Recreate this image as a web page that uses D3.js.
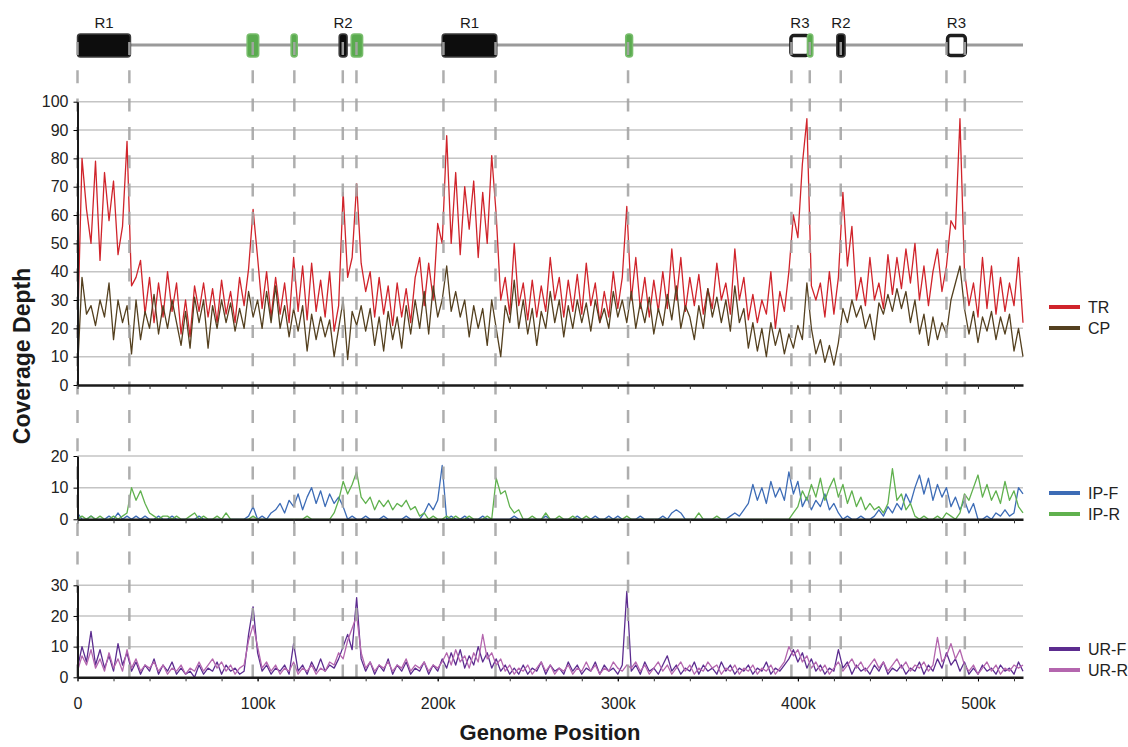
<!DOCTYPE html>
<html>
<head>
<meta charset="utf-8">
<script src="https://cdnjs.cloudflare.com/ajax/libs/d3/7.8.5/d3.min.js"></script>
<style>
  body { margin: 0; background: #fff; }
  svg { font-family: "Liberation Sans", Arial, sans-serif; }
</style>
</head>
<body>
<script>
// coverage along the genome, one value every 2.5 kb (0 .. 525 kb)
var step = 2500;

var tr = [18, 80, 62, 50, 79, 44, 75, 58, 72, 46,
  56, 86, 35, 38, 44, 25, 38, 22, 36, 24,
  40, 26, 36, 18, 30, 17, 35, 26, 36, 24,
  34, 22, 37, 25, 33, 22, 38, 28, 41, 62,
  45, 27, 40, 24, 38, 25, 36, 22, 45, 26,
  42, 23, 43, 26, 37, 24, 40, 19, 28, 68,
  38, 45, 71, 43, 33, 40, 24, 38, 25, 35,
  21, 36, 24, 34, 22, 38, 45, 28, 43, 30,
  57, 50, 88, 50, 75, 46, 70, 55, 72, 45,
  68, 50, 81, 60, 30, 38, 25, 50, 28, 36,
  23, 37, 24, 35, 26, 45, 30, 38, 24, 37,
  26, 39, 25, 43, 28, 36, 22, 33, 24, 40,
  27, 38, 63, 30, 45, 27, 38, 24, 37, 26,
  40, 27, 48, 30, 45, 26, 38, 28, 39, 25,
  34, 27, 43, 30, 36, 25, 48, 30, 38, 23,
  32, 22, 30, 25, 40, 20, 33, 26, 40, 60,
  52, 78, 94, 35, 30, 36, 24, 40, 25, 38,
  68, 42, 56, 30, 38, 28, 45, 30, 36, 27,
  46, 32, 45, 34, 48, 36, 50, 30, 42, 28,
  40, 48, 33, 42, 58, 55, 94, 40, 28, 36,
  24, 45, 27, 42, 25, 38, 26, 36, 28, 45,
  22];

var cp = [5, 38, 25, 28, 21, 30, 24, 36, 16, 30,
  22, 28, 11, 30, 16, 26, 20, 32, 18, 28,
  20, 30, 22, 14, 26, 13, 31, 22, 30, 13,
  28, 20, 30, 22, 29, 19, 27, 20, 33, 24,
  30, 20, 33, 22, 35, 20, 28, 17, 27, 19,
  28, 12, 25, 16, 24, 17, 23, 10, 20, 30,
  9, 26, 21, 28, 19, 27, 14, 24, 12, 26,
  16, 24, 13, 28, 18, 30, 20, 33, 18, 35,
  24, 30, 42, 26, 33, 24, 30, 17, 28, 20,
  27, 14, 30, 20, 10, 28, 22, 37, 20, 30,
  18, 27, 14, 26, 20, 33, 22, 30, 17, 28,
  20, 30, 22, 29, 19, 30, 22, 27, 20, 33,
  24, 30, 22, 33, 20, 29, 22, 31, 18, 27,
  21, 32, 23, 35, 20, 28, 24, 16, 28, 20,
  34, 24, 31, 22, 30, 19, 35, 22, 27, 13,
  22, 12, 20, 10, 22, 14, 20, 11, 18, 13,
  21, 16, 36, 20, 11, 16, 8, 14, 7, 15,
  27, 22, 30, 24, 28, 20, 25, 16, 29, 25,
  32, 26, 34, 27, 33, 22, 30, 18, 25, 14,
  24, 16, 22, 18, 30, 36, 42, 27, 18, 26,
  15, 24, 19, 26, 16, 24, 18, 25, 12, 20,
  10];

var ipF = [2, 0, 0, 1, 0, 0, 0, 1, 0, 2,
  0, 1, 0, 1, 0, 1, 0, 0, 1, 0,
  0, 1, 0, 0, 0, 0, 0, 1, 0, 0,
  0, 0, 0, 0, 0, 0, 0, 0, 1, 4,
  0, 1, 0, 2, 3, 5, 2, 6, 4, 8,
  3, 7, 10, 5, 9, 4, 8, 5, 7, 4,
  0, 1, 0, 0, 1, 0, 0, 0, 1, 0,
  0, 0, 0, 1, 0, 0, 0, 2, 5, 3,
  6, 17, 0, 1, 0, 0, 1, 0, 0, 0,
  1, 0, 0, 0, 0, 0, 0, 1, 0, 0,
  0, 0, 0, 0, 1, 0, 0, 0, 0, 0,
  0, 1, 0, 0, 0, 1, 0, 0, 1, 0,
  1, 0, 0, 0, 0, 1, 0, 0, 0, 0,
  1, 0, 2, 3, 2, 0, 0, 0, 0, 0,
  0, 0, 0, 0, 0, 1, 2, 1, 3, 5,
  11, 6, 10, 5, 12, 7, 10, 6, 15, 8,
  12, 4, 7, 3, 6, 4, 8, 3, 5, 2,
  0, 1, 0, 0, 1, 0, 0, 1, 3, 1,
  4, 2, 5, 3, 8, 5, 10, 14, 8, 13,
  6, 11, 7, 10, 4, 7, 3, 6, 2, 5,
  0, 0, 1, 0, 2, 1, 3, 1, 2, 10,
  8];

var ipR = [0, 1, 0, 1, 0, 1, 0, 0, 1, 0,
  1, 2, 10, 6, 9, 5, 2, 1, 0, 1,
  1, 0, 1, 0, 0, 1, 2, 0, 1, 0,
  0, 1, 0, 2, 0, 0, 0, 0, 0, 1,
  0, 0, 0, 0, 0, 0, 0, 0, 0, 0,
  0, 1, 0, 0, 0, 0, 0, 2, 6, 12,
  8, 11, 15, 7, 5, 7, 3, 6, 4, 6,
  3, 5, 4, 6, 3, 4, 1, 2, 0, 1,
  0, 0, 1, 0, 1, 0, 0, 1, 0, 0,
  0, 1, 0, 13, 8, 9, 4, 2, 3, 0,
  0, 1, 0, 0, 2, 0, 0, 1, 0, 0,
  1, 0, 0, 1, 0, 0, 0, 0, 0, 0,
  0, 0, 1, 0, 0, 0, 0, 0, 0, 0,
  0, 0, 0, 0, 0, 0, 0, 0, 2, 0,
  0, 0, 1, 0, 0, 0, 0, 0, 0, 0,
  0, 0, 0, 0, 0, 0, 0, 0, 0, 2,
  4, 9, 6, 11, 7, 13, 6, 10, 13, 7,
  11, 5, 9, 4, 7, 3, 5, 3, 4, 2,
  5, 16, 6, 8, 3, 5, 1, 0, 1, 0,
  0, 1, 0, 2, 1, 0, 2, 8, 6, 10,
  14, 7, 11, 6, 9, 5, 12, 6, 9, 4,
  2];

var urF = [3, 10, 5, 15, 4, 9, 3, 7, 2, 11,
  4, 8, 2, 5, 1, 4, 2, 6, 1, 4,
  2, 5, 1, 3, 1, 2, 0, 4, 1, 3,
  2, 5, 1, 4, 2, 3, 1, 2, 14, 23,
  8, 2, 4, 1, 3, 2, 4, 1, 11, 2,
  4, 1, 5, 2, 6, 2, 4, 3, 6, 10,
  14, 9, 26, 6, 2, 5, 1, 4, 2, 6,
  1, 4, 2, 5, 1, 3, 2, 5, 1, 4,
  2, 6, 3, 8, 4, 9, 3, 7, 4, 10,
  5, 8, 3, 6, 2, 4, 1, 3, 1, 4,
  1, 3, 2, 5, 1, 4, 2, 3, 1, 5,
  2, 4, 1, 3, 2, 5, 1, 4, 2, 3,
  1, 4, 28, 2, 4, 1, 5, 2, 3, 1,
  4, 7, 2, 4, 1, 3, 2, 5, 1, 4,
  2, 3, 1, 5, 2, 4, 1, 3, 2, 4,
  1, 3, 2, 5, 1, 3, 2, 4, 6, 9,
  5, 8, 3, 6, 2, 4, 1, 3, 2, 9,
  3, 5, 1, 4, 2, 3, 1, 4, 2, 5,
  1, 3, 2, 4, 1, 3, 2, 5, 1, 4,
  2, 6, 3, 8, 4, 6, 2, 5, 1, 3,
  1, 4, 2, 3, 1, 4, 2, 3, 1, 5,
  2];

var urR = [2, 7, 4, 9, 3, 6, 2, 8, 3, 6,
  2, 9, 3, 6, 2, 4, 3, 5, 2, 4,
  1, 3, 2, 4, 1, 3, 2, 5, 2, 4,
  6, 3, 5, 2, 4, 1, 3, 4, 12, 17,
  10, 3, 5, 2, 4, 1, 3, 2, 5, 1,
  3, 2, 4, 1, 3, 2, 5, 4, 8, 6,
  12, 16, 20, 8, 3, 5, 2, 4, 3, 5,
  2, 4, 3, 6, 2, 4, 3, 5, 2, 4,
  3, 5, 8, 4, 9, 5, 7, 3, 8, 5,
  14, 6, 8, 4, 6, 2, 4, 1, 3, 2,
  4, 1, 3, 5, 2, 4, 1, 3, 2, 4,
  1, 3, 2, 5, 2, 4, 1, 3, 2, 5,
  3, 2, 4, 3, 5, 2, 4, 1, 3, 5,
  2, 4, 1, 3, 5, 2, 4, 1, 3, 2,
  5, 3, 4, 1, 3, 2, 4, 1, 3, 2,
  4, 1, 3, 2, 4, 1, 3, 5, 10, 7,
  9, 5, 7, 3, 5, 2, 4, 1, 3, 5,
  2, 4, 6, 3, 5, 2, 4, 6, 3, 5,
  2, 4, 6, 3, 5, 2, 4, 3, 5, 2,
  4, 13, 5, 7, 11, 6, 9, 4, 2, 4,
  1, 3, 5, 2, 4, 1, 3, 2, 4, 3,
  4];

// features on the genome map (bp)
var featStart = [0, 94200, 118600, 145300, 152000, 202500, 304400, 395300, 405300, 421600, 482300];
var featEnd   = [29400, 100600, 122000, 149700, 158300, 232800, 308200, 407000, 408300, 426200, 493800];
var featType  = ["repeat", "gene", "gene", "repeat", "gene", "repeat", "gene", "open", "gene", "repeat", "open"];
var featLabel = ["R1", "", "", "R2", "", "R1", "", "R3", "", "R2", "R3"];

// boundaries marked with dashed lines (bp)
var marks = [0, 28800, 97300, 120400, 147300, 154900, 203200, 232100, 305700, 396400, 406600, 423800, 482500, 492700];

var xMinor = d3.range(0, 525001, 20000);
var xMajor = [0, 100000, 200000, 300000, 400000, 500000];

var width = 1128, height = 747;
var left = 77.5, right = 1023;

var svg = d3.select("body").append("svg")
    .attr("width", width)
    .attr("height", height);

var x = d3.scaleLinear().domain([0, 525000]).range([left, right]);

var panels = [
  {series: [tr, cp], names: ["TR", "CP"], colors: ["#d0242b", "#54401f"],
   ymax: 100, ticks: d3.range(0, 101, 10), top: 101.7, bottom: 385, legY: [307, 328]},
  {series: [ipF, ipR], names: ["IP-F", "IP-R"], colors: ["#3d6cb6", "#60b14e"],
   ymax: 20, ticks: [0, 10, 20], top: 456, bottom: 519.3, legY: [493, 514]},
  {series: [urF, urR], names: ["UR-F", "UR-R"], colors: ["#5c2c8f", "#b466ae"],
   ymax: 30, ticks: [0, 10, 20, 30], top: 585.3, bottom: 677.3, legY: [649, 670]}
];

// genome map on top
svg.append("line")
    .attr("x1", left).attr("x2", right)
    .attr("y1", 45).attr("y2", 45)
    .style("stroke", "#9a9a9a")
    .style("stroke-width", 3);

var feats = featStart.map(function(s, i){
  return {start: s, end: featEnd[i], type: featType[i], label: featLabel[i]};
});

svg.selectAll(".feat")
    .data(feats)
  .enter().append("rect")
    .attr("class", "feat")
    .attr("x", function(d){ return d.type == "open" ? x(d.start) + 1.5 : x(d.start); })
    .attr("y", function(d){ return d.type == "open" ? 35.5 : 34; })
    .attr("width", function(d){ return d.type == "open" ? x(d.end) - x(d.start) - 3 : x(d.end) - x(d.start); })
    .attr("height", function(d){ return d.type == "open" ? 20 : 23; })
    .attr("rx", 3)
    .style("fill", function(d){
      if (d.type == "repeat") return "#0d0d0d";
      if (d.type == "gene") return "#5aab4f";
      return "#fff";
    })
    .style("stroke", function(d){
      if (d.type == "repeat") return "#3c3c3c";
      if (d.type == "gene") return "#78bd6c";
      return "#1e1e1e";
    })
    .style("stroke-width", function(d){ return d.type == "open" ? 3.5 : 1.5; });

svg.selectAll(".featlabel")
    .data(feats.filter(function(d){ return d.label != ""; }))
  .enter().append("text")
    .attr("class", "featlabel")
    .attr("x", function(d){ return x((d.start + d.end) / 2); })
    .attr("y", 28)
    .attr("text-anchor", "middle")
    .style("font-size", "15px")
    .style("fill", "#1a1a1a")
    .text(function(d){ return d.label; });

// grid and coverage lines
panels.forEach(function(p){
  p.y = d3.scaleLinear().domain([0, p.ymax]).range([p.bottom, p.top]);
  var g = svg.append("g");

  g.selectAll(".grid")
      .data(p.ticks.filter(function(t){ return t > 0; }))
    .enter().append("line")
      .attr("x1", left).attr("x2", right)
      .attr("y1", function(d){ return p.y(d); })
      .attr("y2", function(d){ return p.y(d); })
      .style("stroke", "#c4c4c4")
      .style("stroke-width", 1.5);

  var line = d3.line()
      .x(function(d, i){ return x(i * step); })
      .y(function(d){ return p.y(d); });

  p.series.forEach(function(s, si){
    g.append("path")
        .datum(s)
        .attr("d", line)
        .style("fill", "none")
        .style("stroke", p.colors[si])
        .style("stroke-width", 1.3)
        .style("stroke-linejoin", "round");
  });
});

// dashed boundary lines
svg.selectAll(".mark")
    .data(marks)
  .enter().append("line")
    .attr("class", "mark")
    .attr("x1", function(d){ return x(d); })
    .attr("x2", function(d){ return x(d); })
    .attr("y1", 42).attr("y2", 684)
    .style("stroke", "#a6a6a6")
    .style("stroke-width", 2.5)
    .style("stroke-dasharray", "13,15.3")
    .style("opacity", 0.9);

// axes and legends
panels.forEach(function(p, pi){
  var yAxis = svg.append("g")
      .attr("transform", "translate(" + left + ",0)")
      .call(d3.axisLeft(p.y).tickValues(p.ticks).tickSize(4).tickSizeOuter(0).tickPadding(5));
  yAxis.select(".domain").style("stroke", "#1a1a1a").style("stroke-width", 2);
  yAxis.selectAll("text").style("font-size", "16px").style("fill", "#222").attr("font-family", null);

  var xAxis = svg.append("g")
      .attr("transform", "translate(0," + p.bottom + ")")
      .call(d3.axisBottom(x).tickValues(xMinor).tickSize(4).tickSizeOuter(0).tickFormat(""));
  xAxis.select(".domain").style("stroke", "#1a1a1a").style("stroke-width", 2.5);
  xAxis.selectAll(".tick line").style("stroke", "#333");

  if (pi == panels.length - 1) {
    var lab = svg.append("g")
        .attr("transform", "translate(0," + p.bottom + ")")
        .call(d3.axisBottom(x).tickValues(xMajor).tickSize(4).tickSizeOuter(0).tickPadding(16)
          .tickFormat(function(d){ return d == 0 ? "0" : (d / 1000) + "k"; }));
    lab.select(".domain").remove();
    lab.selectAll("text").style("font-size", "16px").style("fill", "#222").attr("font-family", null);
  }

  p.names.forEach(function(n, ni){
    svg.append("line")
        .attr("x1", 1049).attr("x2", 1080)
        .attr("y1", p.legY[ni]).attr("y2", p.legY[ni])
        .style("stroke", p.colors[ni])
        .style("stroke-width", 4);
    svg.append("text")
        .attr("x", 1088)
        .attr("y", p.legY[ni])
        .attr("dy", "0.36em")
        .style("font-size", "16px")
        .style("fill", "#222")
        .text(n);
  });
});

// axis titles
svg.append("text")
    .attr("transform", "translate(29.5,356) rotate(-90)")
    .attr("text-anchor", "middle")
    .style("font-size", "23px")
    .style("font-weight", "bold")
    .style("fill", "#1a1a1a")
    .text("Coverage Depth");

svg.append("text")
    .attr("x", 550)
    .attr("y", 740)
    .attr("text-anchor", "middle")
    .style("font-size", "22px")
    .style("font-weight", "bold")
    .style("fill", "#1a1a1a")
    .text("Genome Position");
</script>
</body>
</html>
